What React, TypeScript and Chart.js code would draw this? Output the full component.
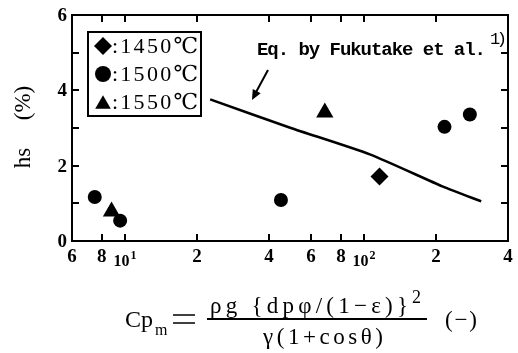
import React, { useEffect, useRef } from 'react';
import { Chart, registerables } from 'chart.js';
import { drawPoint } from 'chart.js/helpers';

Chart.register(...registerables);

// ---- data ----
const series1450 = [{ x: 116, y: 1.71 }];
const series1500 = [
  { x: 7.47, y: 1.17 },
  { x: 9.54, y: 0.54 },
  { x: 44.9, y: 1.09 },
  { x: 217, y: 3.03 },
  { x: 277, y: 3.36 },
];
const series1550 = [
  { x: 8.78, y: 0.78 },
  { x: 68.5, y: 3.41 },
];
const fukutakeLine = [
  { x: 22.7, y: 3.76 },
  { x: 49.4, y: 3.0 },
  { x: 105.7, y: 2.3 },
  { x: 212.7, y: 1.45 },
  { x: 309, y: 1.05 },
];
const legendLabels = [':1450℃', ':1500℃', ':1550℃'];
const legendStyles = ['rectRot', 'circle', 'triangle'];
const xTickValues = [6, 8, 10, 20, 40, 60, 80, 100, 200, 400];
const xTickLabels = ['6', '8', '10^1', '2', '4', '6', '8', '10^2', '2', '4'];
const yTickValues = [0, 1, 2, 3, 4, 5, 6];
const yTickLabels = ['0', '', '2', '', '4', '', '6'];
const annotationText = 'Eq. by Fukutake et al.';
const annotationRef = '1)';
const yTitleMain = 'hs';
const yTitleUnit = '(%)';

const SERIF = '"Liberation Serif", "DejaVu Serif", "Noto Sans CJK JP", serif';
const MONO = '"Liberation Mono", "DejaVu Sans Mono", monospace';

function fitText(ctx: CanvasRenderingContext2D, text: string, x: number, y: number, width: number, align: 'left' | 'center' = 'left') {
  ctx.save();
  (ctx as any).letterSpacing = '0px';
  ctx.textAlign = 'left';
  const w = ctx.measureText(text).width;
  const n = Math.max(1, text.length - 1);
  const ls = (width - w) / n;
  (ctx as any).letterSpacing = ls + 'px';
  const startX = align === 'center' ? x - width / 2 : x;
  ctx.fillText(text, startX, y);
  ctx.restore();
}

const drawPlugin = {
  id: 'customDraw',
  afterDraw(chart: any) {
    const { ctx, chartArea: a, scales } = chart;
    const xs = scales.x;
    const ys = scales.y;
    ctx.save();
    ctx.fillStyle = '#000';
    ctx.strokeStyle = '#000';

    // frame
    ctx.lineWidth = 2;
    ctx.strokeRect(a.left, a.top, a.right - a.left, a.bottom - a.top);

    // inward ticks
    const tl = 7;
    ctx.lineWidth = 2;
    ctx.beginPath();
    xTickValues.forEach((v) => {
      const px = Math.round(xs.getPixelForValue(v));
      ctx.moveTo(px, a.bottom);
      ctx.lineTo(px, a.bottom - tl);
      ctx.moveTo(px, a.top);
      ctx.lineTo(px, a.top + tl);
    });
    yTickValues.forEach((v) => {
      const py = Math.round(ys.getPixelForValue(v));
      ctx.moveTo(a.left, py);
      ctx.lineTo(a.left + tl, py);
      ctx.moveTo(a.right, py);
      ctx.lineTo(a.right - tl, py);
    });
    ctx.stroke();

    // x tick labels
    ctx.textBaseline = 'alphabetic';
    xTickValues.forEach((v, i) => {
      const lab = xTickLabels[i];
      const px = xs.getPixelForValue(v);
      if (lab.includes('^')) {
        const [base, exp] = lab.split('^');
        ctx.font = `bold 16px ${SERIF}`;
        const bw = ctx.measureText(base).width;
        ctx.font = `bold 12px ${SERIF}`;
        const ew = ctx.measureText(exp).width;
        const start = px - (bw + ew + 1) / 2;
        ctx.font = `bold 16px ${SERIF}`;
        ctx.textAlign = 'left';
        ctx.fillText(base, start, a.bottom + 25);
        ctx.font = `bold 12px ${SERIF}`;
        ctx.fillText(exp, start + bw + 1, a.bottom + 18);
      } else {
        ctx.font = `bold 19px ${SERIF}`;
        ctx.textAlign = 'center';
        ctx.fillText(lab, px, a.bottom + 21);
      }
    });

    // y tick labels
    ctx.font = `bold 19px ${SERIF}`;
    ctx.textAlign = 'right';
    ctx.textBaseline = 'middle';
    yTickValues.forEach((v, i) => {
      const lab = yTickLabels[i];
      if (!lab) return;
      ctx.fillText(lab, a.left - 5, ys.getPixelForValue(v) + 1);
    });

    // y title (rotated)
    ctx.save();
    ctx.translate(30, 131);
    ctx.rotate(-Math.PI / 2);
    ctx.font = `23px ${SERIF}`;
    ctx.textAlign = 'center';
    ctx.textBaseline = 'alphabetic';
    ctx.fillText(yTitleMain, -27, 0);
    ctx.fillText(yTitleUnit, 28, 0);
    ctx.restore();

    // legend box
    ctx.lineWidth = 2;
    ctx.strokeRect(88, 32, 113, 84);
    const rowY = [46, 74, 102];
    const radii = [9, 8, 9];
    legendLabels.forEach((lab, i) => {
      let cy = rowY[i];
      if (legendStyles[i] === 'triangle') cy += radii[i] / 4;
      ctx.fillStyle = '#000';
      drawPoint(ctx, { pointStyle: legendStyles[i], radius: radii[i], rotation: 0, borderWidth: 0 }, 103, cy);
      ctx.font = `22px ${SERIF}`;
      ctx.textBaseline = 'middle';
      ctx.textAlign = 'left';
      fitText(ctx, lab, 112, rowY[i] + 1, 86);
    });

    // annotation
    ctx.fillStyle = '#000';
    ctx.textBaseline = 'alphabetic';
    ctx.font = `bold 19px ${MONO}`;
    fitText(ctx, annotationText, 257, 55, 229);
    ctx.font = `17px ${MONO}`;
    fitText(ctx, annotationRef, 490, 44, 17);

    // arrow
    ctx.lineWidth = 2;
    ctx.beginPath();
    ctx.moveTo(268, 70);
    ctx.lineTo(255, 94);
    ctx.stroke();
    const ang = Math.atan2(100 - 70, 252 - 268);
    const hx = 252, hy = 100, hl = 10, hw = 4.5;
    const bx = hx - hl * Math.cos(ang), by = hy - hl * Math.sin(ang);
    ctx.beginPath();
    ctx.moveTo(hx, hy);
    ctx.lineTo(bx + hw * Math.sin(ang), by - hw * Math.cos(ang));
    ctx.lineTo(bx - hw * Math.sin(ang), by + hw * Math.cos(ang));
    ctx.closePath();
    ctx.fill();

    // x-axis formula
    ctx.textBaseline = 'alphabetic';
    ctx.textAlign = 'left';
    ctx.font = `24px ${SERIF}`;
    fitText(ctx, 'Cp', 125, 327, 28);
    ctx.font = `16px ${SERIF}`;
    ctx.fillText('m', 155, 335);
    ctx.lineWidth = 1.6;
    ctx.beginPath();
    ctx.moveTo(173, 315); ctx.lineTo(195, 315);
    ctx.moveTo(173, 323); ctx.lineTo(195, 323);
    ctx.stroke();
    ctx.lineWidth = 2;
    ctx.beginPath();
    ctx.moveTo(207, 319); ctx.lineTo(427, 319);
    ctx.stroke();
    ctx.font = `23px ${SERIF}`;
    fitText(ctx, 'ρg {dpφ/(1−ε)}', 210, 313, 198);
    ctx.font = `18px ${SERIF}`;
    ctx.fillText('2', 412, 303);
    ctx.font = `23px ${SERIF}`;
    fitText(ctx, 'γ(1+cosθ)', 323, 344, 120, 'center');
    fitText(ctx, '(−)', 445, 327, 32);

    ctx.restore();
  },
};

export default function App() {
  const ref = useRef<HTMLCanvasElement | null>(null);
  useEffect(() => {
    if (!ref.current) return;
    const chart = new Chart(ref.current, {
      type: 'scatter',
      data: {
        datasets: [
          {
            label: 'Eq. by Fukutake et al.',
            data: fukutakeLine,
            showLine: true,
            borderColor: '#000',
            backgroundColor: '#000',
            borderWidth: 2.5,
            pointRadius: 0,
            tension: 0.2,
          },
          {
            label: '1450℃',
            data: series1450,
            pointStyle: 'rectRot',
            pointRadius: 9,
            backgroundColor: '#000',
            borderColor: '#000',
            borderWidth: 0,
          },
          {
            label: '1500℃',
            data: series1500,
            pointStyle: 'circle',
            pointRadius: 7,
            backgroundColor: '#000',
            borderColor: '#000',
            borderWidth: 0,
          },
          {
            label: '1550℃',
            data: series1550,
            pointStyle: 'triangle',
            pointRadius: 10,
            backgroundColor: '#000',
            borderColor: '#000',
            borderWidth: 0,
          },
        ],
      },
      options: {
        responsive: false,
        animation: false,
        devicePixelRatio: 1,
        layout: { padding: { left: 72, top: 15, right: 5, bottom: 112 } },
        plugins: { legend: { display: false }, tooltip: { enabled: false } },
        scales: {
          x: {
            type: 'logarithmic',
            min: 6,
            max: 400,
            grid: { display: false },
            border: { display: false },
            ticks: { display: false },
            afterFit: (s: any) => { s.height = 0; },
          },
          y: {
            type: 'linear',
            min: 0,
            max: 6,
            grid: { display: false },
            border: { display: false },
            ticks: { display: false },
            afterFit: (s: any) => { s.width = 0; },
          },
        },
      },
      plugins: [drawPlugin],
    } as any);
    return () => chart.destroy();
  }, []);
  return (
    <div style={{ position: 'fixed', left: 0, top: 0, width: 518, height: 353, background: '#fff' }}>
      <canvas ref={ref} width={518} height={353} style={{ width: 518, height: 353, display: 'block' }} />
    </div>
  );
}
